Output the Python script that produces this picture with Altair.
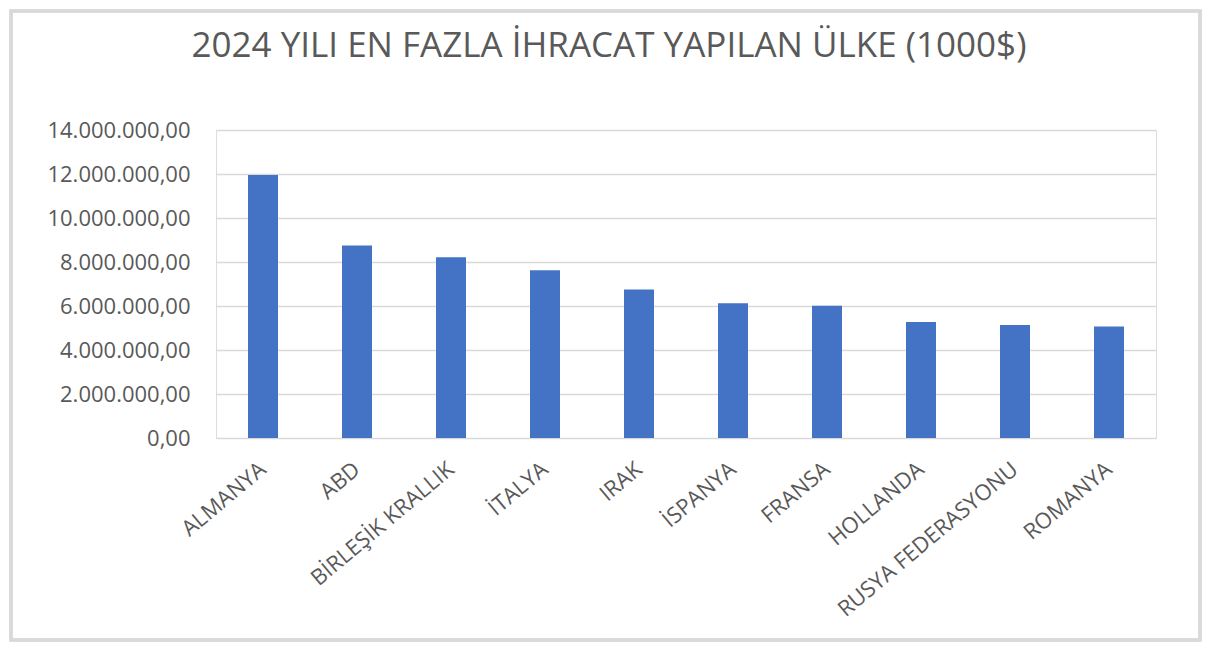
import altair as alt
import pandas as pd

countries = ["ALMANYA", "ABD", "BİRLEŞİK KRALLIK", "İTALYA", "IRAK", "İSPANYA",
             "FRANSA", "HOLLANDA", "RUSYA FEDERASYONU", "ROMANYA"]
exports = [11950000, 8750000, 8220000, 7630000, 6750000, 6130000,
           6010000, 5270000, 5140000, 5070000]
y_ticks = [0, 2000000, 4000000, 6000000, 8000000, 10000000, 12000000, 14000000]
title_text = "2024 YILI EN FAZLA İHRACAT YAPILAN ÜLKE (1000$)"

df = pd.DataFrame({"ulke": countries, "deger": exports})

FONT = "Open Sans"
GREY = "#595959"

label_expr = ("replace(replace(replace(format(datum.value, ',.2f'), regexp(',', 'g'), '#'), "
              "'.', ','), regexp('#', 'g'), '.')")

bars = alt.Chart(df).mark_bar(size=30, color="#4472C4").encode(
    x=alt.X("ulke:N", sort=countries, title=None,
            axis=alt.Axis(labelAngle=320, labelAlign="right", labelBaseline="middle",
                          labelPadding=28, ticks=False, domain=False, labelFontSize=22,
                          labelColor=GREY, labelFont=FONT, labelLimit=400)),
    y=alt.Y("deger:Q", title=None,
            scale=alt.Scale(domain=[0, 14000000], nice=False),
            axis=alt.Axis(values=y_ticks, labelExpr=label_expr, ticks=False, domain=False,
                          labelFontSize=22, labelColor=GREY, labelFont=FONT,
                          labelPadding=26, gridColor="#d9d9d9", gridWidth=1.5)),
)

border = alt.Chart(df).mark_rect(fill=None, stroke="#d9d9d9", strokeWidth=2.5).encode(
    x=alt.value(-205), x2=alt.value(984), y=alt.value(-119), y2=alt.value(510)
)

chart = alt.layer(border, bars).properties(
    width=940, height=308,
    padding={"left": 208, "top": 122, "right": 47, "bottom": 210},
    autosize=alt.AutoSizeParams(type="none"),
    title=alt.TitleParams(title_text, fontSize=35, font=FONT, color=GREY, fontWeight="normal",
                          anchor="middle", dx=-77, offset=-82, baseline="alphabetic"),
).configure_view(stroke=None).configure(background="white")

chart.save("out.html", embed_options={"renderer": "svg", "actions": False})
